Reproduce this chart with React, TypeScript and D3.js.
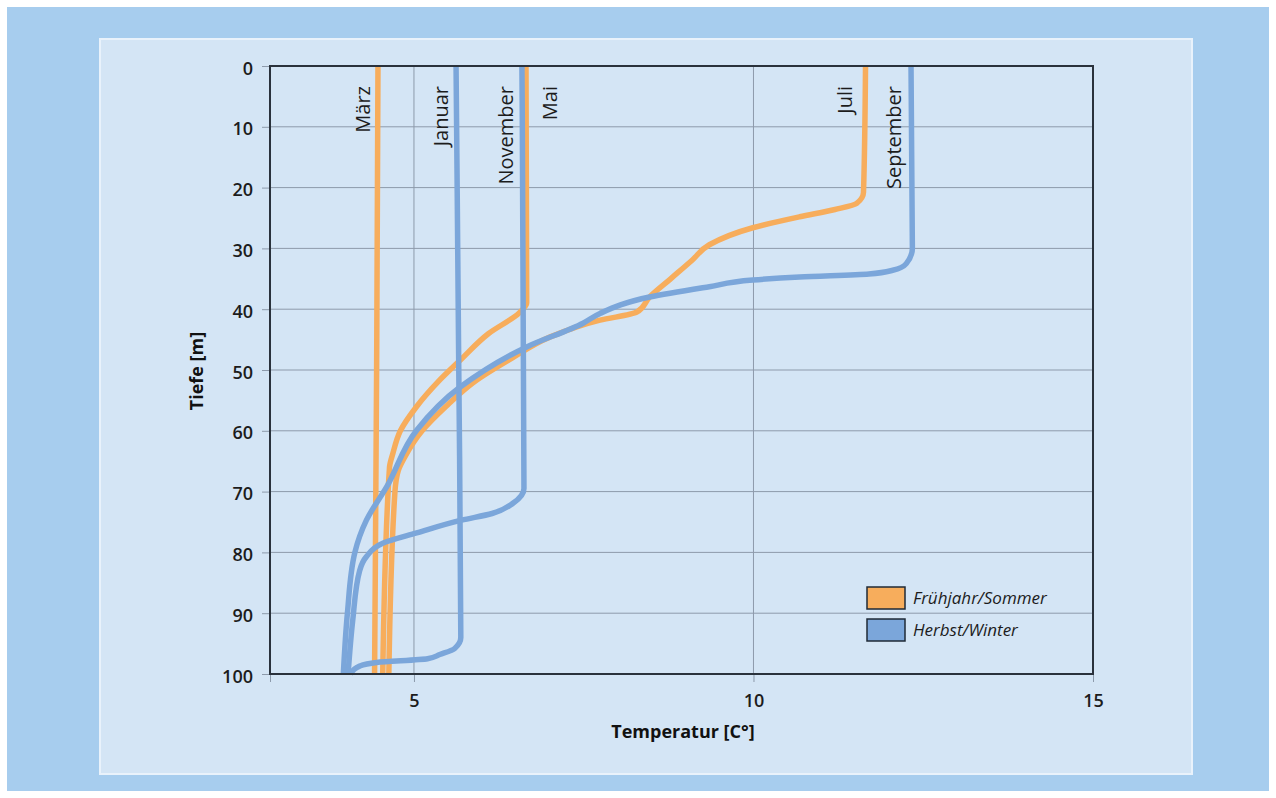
import React, { useRef, useEffect } from "react";
import * as d3 from "d3";

// depth [m] / temperature [°C] pairs
const maerz: [number, number][] = [[0, 4.47], [50, 4.45], [100, 4.42]];
const mai: [number, number][] = [
  [0, 6.65], [39, 6.66], [40.6, 6.55], [44, 6.1], [48.4, 5.68], [52, 5.35],
  [56, 5.04], [60, 4.8], [63.7, 4.69], [66, 4.64], [100, 4.54],
];
const juli: [number, number][] = [
  [0, 11.65], [20.8, 11.62], [22.6, 11.52], [23.6, 11.2], [24.8, 10.68],
  [26.6, 9.99], [29.4, 9.35], [31.9, 9.1], [35, 8.78], [38, 8.47], [40.5, 8.28],
  [41.8, 7.74], [44.6, 7.0], [48, 6.45], [52, 5.88], [56, 5.47], [60, 5.12],
  [64, 4.88], [66.5, 4.77], [70, 4.72], [100, 4.63],
];
const januar: [number, number][] = [
  [0, 5.62], [50, 5.66], [94, 5.69], [95.8, 5.6], [96.8, 5.38], [97.5, 5.2],
  [98.1, 4.45], [98.7, 4.2], [100, 4.06],
];
const november: [number, number][] = [
  [0, 6.59], [69.5, 6.62], [71.9, 6.46], [73.6, 6.15], [74.7, 5.7], [76.8, 5.04],
  [78.5, 4.54], [80.7, 4.3], [83, 4.2], [91, 4.1], [100, 4.03],
];
const september: [number, number][] = [
  [0, 12.32], [30, 12.34], [32.5, 12.25], [33.6, 12.05], [34.2, 11.7],
  [34.7, 10.68], [35.2, 9.99], [36.3, 9.35], [38, 8.47], [40.7, 7.74],
  [42.3, 7.49], [46.2, 6.66], [52.8, 5.68], [59.9, 5.04], [69.2, 4.6],
  [74.7, 4.3], [80, 4.13], [90, 4.02], [100, 3.96],
];

const seriesNames = ["März", "Mai", "Juli", "Januar", "November", "September"];
const seriesData = [maerz, mai, juli, januar, november, september];
const seriesGroup = [0, 0, 0, 1, 1, 1];
const legendLabels = ["Frühjahr/Sommer", "Herbst/Winter"];

const depthTicks = [0, 10, 20, 30, 40, 50, 60, 70, 80, 90, 100];
const tempTicks = [5, 10, 15];
const tempDomain = [2.88, 15];
const depthDomain = [0, 100];

const W = 1276;
const H = 798;
const plot = { left: 270, top: 66, right: 1093, bottom: 674 };
const colors = ["#f7ad5c", "#7ba6da"];
const font = "'Open Sans', sans-serif";

// horizontal shift of each month label against its line, px
const labelShift: Record<string, number> = {
  März: -8, Mai: 31, Juli: -14, Januar: -8, November: -9, September: -10,
};

function Chart() {
  const ref = useRef<SVGSVGElement>(null);

  useEffect(() => {
    document.body.style.margin = "0";
    const svg = d3.select(ref.current);
    svg.selectAll("*").remove();

    const x = d3.scaleLinear().domain(tempDomain).range([plot.left, plot.right]);
    const y = d3.scaleLinear().domain(depthDomain).range([plot.top, plot.bottom]);

    // backgrounds
    svg.append("rect").attr("width", W).attr("height", H).attr("fill", "#fff");
    svg.append("rect").attr("x", 7).attr("y", 7).attr("width", W - 14).attr("height", H - 14).attr("fill", "#a7cdee");
    svg.append("rect").attr("x", 100).attr("y", 39).attr("width", 1092).attr("height", 735)
      .attr("fill", "#d4e5f5").attr("stroke", "#e9f2fb").attr("stroke-width", 2);

    // grid
    const grid = svg.append("g").attr("stroke", "#8d9aab").attr("stroke-width", 1);
    grid.selectAll("line.h").data(depthTicks.slice(1, -1)).enter().append("line")
      .attr("x1", plot.left).attr("x2", plot.right)
      .attr("y1", (d) => y(d)).attr("y2", (d) => y(d));
    grid.selectAll("line.v").data(tempTicks.slice(0, -1)).enter().append("line")
      .attr("y1", plot.top).attr("y2", plot.bottom)
      .attr("x1", (d) => x(d)).attr("x2", (d) => x(d));

    // axes
    const yAxis = svg.append("g").attr("transform", `translate(${plot.left},0)`)
      .call(d3.axisLeft(y).tickValues(depthTicks).tickSize(8).tickSizeOuter(0).tickPadding(9));
    const xAxis = svg.append("g").attr("transform", `translate(0,${plot.bottom})`)
      .call(d3.axisBottom(x).tickValues(tempTicks).tickSize(8).tickSizeOuter(8).tickPadding(12));
    [yAxis, xAxis].forEach((a) => {
      a.select(".domain").attr("stroke", "#8d9aab");
      a.selectAll(".tick line").attr("stroke", "#8d9aab");
      a.selectAll(".tick text").attr("fill", "#1c1c1c").attr("font-family", font)
        .attr("font-size", 18).attr("font-weight", 600);
    });
    yAxis.selectAll(".tick text").attr("dy", "0.45em");

    // lines
    const line = d3.line<[number, number]>()
      .x((d) => x(d[1]))
      .y((d) => y(d[0]))
      .curve(d3.curveMonotoneY);
    const order = [0, 1, 2, 3, 4, 5];
    svg.append("g").selectAll("path").data(order).enter().append("path")
      .attr("d", (i) => line(seriesData[i]))
      .attr("fill", "none")
      .attr("stroke", (i) => colors[seriesGroup[i]])
      .attr("stroke-width", 5.5)
      .attr("stroke-linejoin", "round");

    // frame
    svg.append("rect").attr("x", plot.left).attr("y", plot.top)
      .attr("width", plot.right - plot.left).attr("height", plot.bottom - plot.top)
      .attr("fill", "none").attr("stroke", "#2a323c").attr("stroke-width", 2);

    // month labels
    svg.append("g").selectAll("text").data(order).enter().append("text")
      .attr("transform", (i) => `translate(${x(seriesData[i][0][1]) + labelShift[seriesNames[i]]},${plot.top + 20}) rotate(-90)`)
      .attr("text-anchor", "end")
      .attr("font-family", font).attr("font-size", 20).attr("fill", "#1c1c1c")
      .text((i) => seriesNames[i]);

    // axis titles
    svg.append("text").attr("x", 683).attr("y", 738).attr("text-anchor", "middle")
      .attr("font-family", font).attr("font-size", 18).attr("font-weight", 700).attr("fill", "#111")
      .text("Temperatur [C°]");
    svg.append("text").attr("transform", "translate(203,371) rotate(-90)").attr("text-anchor", "middle")
      .attr("font-family", font).attr("font-size", 18).attr("font-weight", 700).attr("fill", "#111")
      .text("Tiefe [m]");

    // legend
    const lg = svg.append("g").selectAll("g").data(legendLabels).enter().append("g")
      .attr("transform", (d, i) => `translate(867,${587 + i * 32})`);
    lg.append("rect").attr("width", 38).attr("height", 22)
      .attr("fill", (d, i) => colors[i]).attr("stroke", "#1f2a36").attr("stroke-width", 1.5);
    lg.append("text").attr("x", 46).attr("y", 17)
      .attr("font-family", font).attr("font-size", 17).attr("font-style", "italic").attr("fill", "#1c1c1c")
      .text((d) => d);
  }, []);

  return <svg ref={ref} width={W} height={H} style={{ display: "block" }} />;
}

export default function App() {
  return <Chart />;
}
